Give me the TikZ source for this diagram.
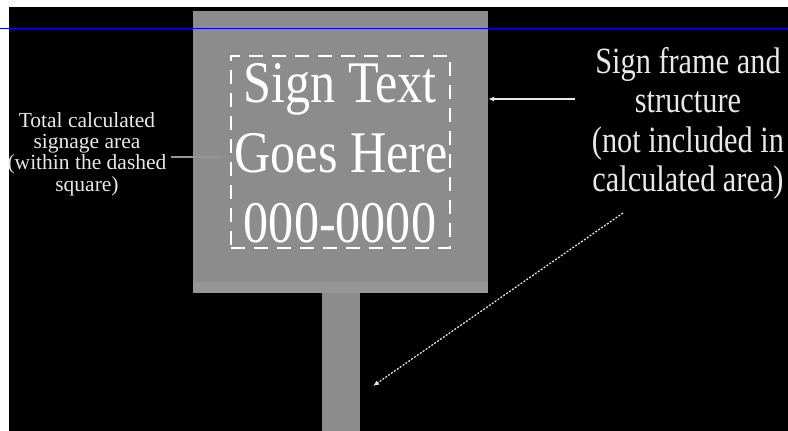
\documentclass[tikz,border=0pt]{standalone}
\usepackage{fontspec}
\setmainfont{Liberation Serif}
\newfontfamily\signfont[FakeStretch=0.85]{Liberation Serif}
\newfontfamily\framefont[FakeStretch=0.82]{Liberation Serif}
\usepackage{xcolor}
\usetikzlibrary{arrows.meta, positioning}
\definecolor{signgrey}{RGB}{140,140,140}
\definecolor{ledgegrey}{RGB}{150,150,150}
\definecolor{notewhite}{RGB}{232,232,232}
\definecolor{leadgrey}{RGB}{150,150,150}

\begin{document}
\begin{tikzpicture}[
    x=1pt, y=-1pt,
    signbox/.style={rectangle, fill=signgrey, draw=none, inner sep=0pt},
    signline/.style={text=white, font=\signfont\fontsize{59}{70}\selectfont, inner sep=0pt, anchor=base},
    areabox/.style={rectangle, draw=white, line width=1.8pt, dash pattern=on 14pt off 9pt, inner sep=0pt, minimum width=219pt, minimum height=192pt},
    note/.style={text=notewhite, align=center, inner sep=0pt, anchor=north},
    pointer/.style={-{Latex[length=6pt, width=5pt]}, line width=1.6pt, draw=notewhite},
    leader/.style={-{Latex[length=4pt, width=4pt]}, line width=1.3pt, draw=leadgrey},
    dotpointer/.style={-{Latex[length=6pt, width=5pt]}, line width=1.2pt, draw=notewhite, dash pattern=on 2pt off 1.5pt}
  ]
    \useasboundingbox (0,0) rectangle (788,431);
    \fill[white] (0,0) rectangle (788,431);
    \fill[black] (9,7) rectangle (788,431);

    % sign board and post
    \node[signbox, minimum width=295pt, minimum height=282pt] (sign) at (340.5,152) {};
    \fill[ledgegrey] (sign.south west) rectangle ([yshift=11pt]sign.south east);
    \node[signbox, minimum width=38pt, minimum height=138pt, anchor=north] (post) at ([xshift=0.5pt]sign.south) {};
    \draw[blue, line width=0.8pt] (0,28) -- (788,28);

    \node[areabox] (area) at (sign.center) {};
    \node[signline] (line1) at (340,102) {Sign Text};
    \node[signline] (line2) at (341,172) {Goes Here};
    \node[signline] (line3) at (340,242) {000-0000};

    % labels
    \node[note, font=\fontsize{21.5}{21.3}\selectfont] (areanote) at (87,112) {Total calculated\\signage area\\(within the dashed\\square)};
    \node[note, font=\framefont\fontsize{37}{39.5}\selectfont] (framenote) at (688,47) {Sign frame and\\structure\\(not included in\\calculated area)};

    \coordinate (areahook) at (221,157);
    \coordinate (frametail) at (575,99);
    \coordinate (posttail) at (623,213);
    \coordinate (posttip) at (373,386);

    \draw[leader] ([xshift=4pt]areanote.east |- areahook) -- (areahook);
    \draw[pointer] (frametail) -- (sign.east |- frametail);
    \draw[dotpointer] (posttail) -- (posttip);

  \end{tikzpicture}
\end{document}
